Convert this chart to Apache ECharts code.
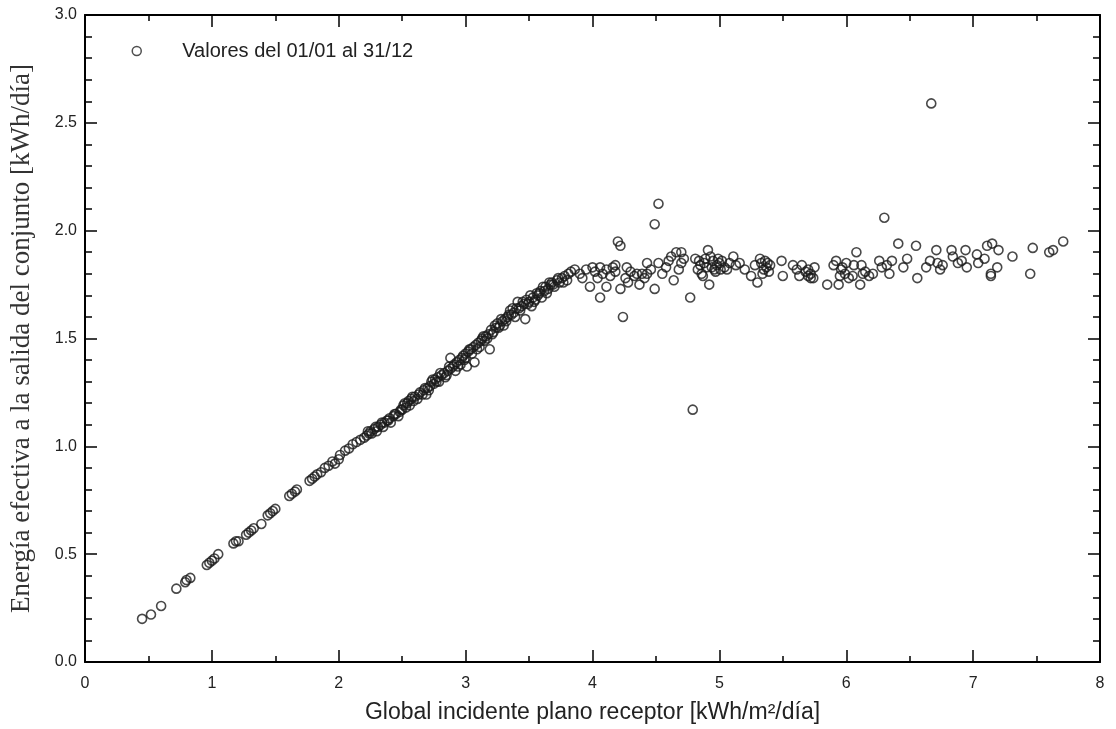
<!DOCTYPE html>
<html>
<head>
<meta charset="utf-8">
<script src="https://cdn.jsdelivr.net/npm/echarts@6/dist/echarts.min.js"></script>
<style>html,body{margin:0;padding:0;background:#fff}#c{width:1116px;height:729px}</style>
</head>
<body>
<div id="c"></div>
<script>
const seriesName = 'Valores del 01/01 al 31/12';
const xAxisName = 'Global incidente plano receptor [kWh/m²/día]';
const yAxisName = 'Energía efectiva a la salida del conjunto [kWh/día]';

const lowX = [0.45,0.52,0.60,0.72,0.79,0.80,0.83,0.96,0.98,1.00,1.02,1.05,1.17,1.19,1.21,1.27,1.29,1.31,1.33,1.39,1.44,1.46,1.48,1.50,1.61,1.63,1.655,1.67,1.77,1.79,1.81,1.83,1.86,1.89,1.92,1.95,1.97,2.00,2.01,2.05,2.08,2.11,2.14,2.17];
const lowY = [0.20,0.22,0.26,0.34,0.37,0.38,0.39,0.45,0.46,0.47,0.48,0.50,0.55,0.56,0.56,0.59,0.60,0.61,0.62,0.64,0.68,0.69,0.70,0.71,0.77,0.78,0.79,0.80,0.84,0.85,0.86,0.87,0.88,0.90,0.91,0.93,0.92,0.94,0.96,0.98,0.99,1.01,1.02,1.03];

const rampX = [2.20,2.22,2.23,2.25,2.26,2.28,2.30,2.31,2.33,2.35,2.36,2.38,2.40,2.41,2.43,2.45,2.47,2.48,2.50,2.51,2.53,2.54,2.55,2.56,2.57,2.59,2.60,2.62,2.64,2.66,2.67,2.69,2.70,2.72,2.73,2.75,2.76,2.78,2.79,2.81,2.83,2.84,2.86,2.88,2.88,2.90,2.92,2.93,2.95,2.96,2.98,2.99,3.00,3.01,3.02,3.04,3.05,3.07,3.08,3.10,3.11,3.13,3.15,3.16,3.18,3.19,3.20,3.22,3.24,3.25,3.27,3.29,3.30,3.31,3.33,3.35,3.36,3.38,3.40,3.41,3.43,3.44,3.46,3.47,3.48,3.50,3.52,3.53,3.55,3.57,3.58,3.60,3.62,3.63,3.65,3.67,3.68,3.70,3.72,3.74,3.76,3.78,3.80,3.83];
const rampY = [1.04,1.05,1.07,1.07,1.06,1.08,1.07,1.09,1.10,1.09,1.11,1.12,1.13,1.11,1.14,1.15,1.14,1.16,1.17,1.19,1.18,1.20,1.21,1.19,1.22,1.21,1.23,1.22,1.25,1.24,1.26,1.24,1.27,1.28,1.30,1.29,1.31,1.32,1.30,1.33,1.34,1.32,1.35,1.41,1.36,1.37,1.35,1.39,1.40,1.38,1.42,1.40,1.43,1.37,1.44,1.45,1.43,1.39,1.47,1.48,1.46,1.50,1.49,1.51,1.52,1.45,1.54,1.53,1.55,1.57,1.56,1.58,1.56,1.59,1.60,1.63,1.61,1.62,1.64,1.67,1.63,1.65,1.66,1.59,1.68,1.67,1.65,1.69,1.68,1.70,1.71,1.69,1.72,1.74,1.73,1.75,1.76,1.74,1.77,1.76,1.78,1.79,1.77,1.81];

const rampX2 = [2.24,2.29,2.34,2.39,2.44,2.49,2.52,2.58,2.63,2.68,2.71,2.74,2.77,2.80,2.85,2.87,2.91,2.94,2.97,3.00,3.03,3.06,3.09,3.12,3.14,3.17,3.21,3.23,3.26,3.28,3.32,3.34,3.37,3.39,3.42,3.45,3.49,3.51,3.54,3.56,3.59,3.61,3.64,3.66,3.69,3.73,3.77,3.81];
const rampY2 = [1.06,1.09,1.11,1.12,1.15,1.17,1.20,1.23,1.24,1.27,1.26,1.31,1.30,1.34,1.33,1.37,1.38,1.37,1.41,1.41,1.45,1.46,1.45,1.49,1.51,1.50,1.52,1.56,1.55,1.59,1.58,1.61,1.64,1.60,1.64,1.67,1.66,1.70,1.67,1.71,1.72,1.74,1.71,1.76,1.75,1.78,1.76,1.80];

const plateauX = [3.86,3.90,3.92,3.95,3.98,4.00,4.02,4.04,4.06,4.06,4.08,4.11,4.11,4.14,4.16,4.18,4.18,4.20,4.22,4.22,4.24,4.26,4.27,4.28,4.30,4.33,4.35,4.37,4.39,4.41,4.43,4.43,4.46,4.49,4.49,4.52,4.52,4.55,4.58,4.60,4.62,4.64,4.66,4.68,4.70,4.70,4.72,4.77,4.79,4.81,4.83,4.85,4.86,4.87,4.89,4.90,4.91,4.92,4.94,4.95,4.97,4.98,5.00,5.02,5.04,5.06,5.08,5.11,5.13,5.16,5.20,5.25,5.28,5.30,5.32,5.33,5.35,5.37,5.38,5.40,5.49,5.50,5.58,5.61,5.63,5.65,5.68,5.70,5.72,5.74,5.75,5.85,5.90,5.92,5.94,5.96,5.97,5.99,6.02,6.05,6.06,6.08,6.11,6.12,6.15,6.18,6.21,6.26,6.28,6.30,6.34,6.36,6.41,6.45,6.48,6.55,6.56,6.63,6.66,6.67,6.71,6.72,6.74,6.76,6.83,6.84,6.88,6.91,6.94,6.95,7.03,7.04,7.09,7.11,7.14,7.14,7.15,7.19,7.20,7.31,7.45,7.47,7.60,7.63,7.71];
const plateauY = [1.82,1.80,1.78,1.82,1.74,1.83,1.81,1.78,1.69,1.83,1.80,1.82,1.74,1.79,1.83,1.84,1.81,1.95,1.93,1.73,1.60,1.78,1.83,1.76,1.81,1.79,1.80,1.75,1.80,1.78,1.80,1.85,1.82,1.73,2.03,2.125,1.85,1.80,1.83,1.86,1.88,1.77,1.90,1.82,1.90,1.85,1.87,1.69,1.17,1.87,1.82,1.84,1.80,1.79,1.87,1.83,1.91,1.75,1.83,1.86,1.81,1.84,1.85,1.86,1.83,1.82,1.85,1.88,1.84,1.85,1.82,1.79,1.84,1.76,1.87,1.85,1.82,1.83,1.85,1.84,1.86,1.79,1.84,1.82,1.79,1.84,1.81,1.79,1.78,1.78,1.83,1.75,1.84,1.86,1.75,1.82,1.83,1.80,1.78,1.79,1.84,1.90,1.75,1.84,1.81,1.79,1.80,1.86,1.83,2.06,1.80,1.86,1.94,1.83,1.87,1.93,1.78,1.83,1.86,2.59,1.91,1.85,1.82,1.84,1.91,1.88,1.85,1.86,1.91,1.83,1.89,1.85,1.87,1.93,1.79,1.80,1.94,1.83,1.91,1.88,1.80,1.92,1.90,1.91,1.95];

const plateauX2 = [4.84,4.88,4.93,4.96,4.99,5.01,5.34,5.36,5.39,5.70,5.72,5.95,6.00,6.13,6.32];
const plateauY2 = [1.86,1.85,1.88,1.82,1.87,1.82,1.80,1.86,1.81,1.82,1.80,1.79,1.85,1.80,1.84];

const xTicks = {min: 0, max: 8, interval: 1};
const yTicks = {min: 0, max: 3, interval: 0.5};

function pairs(xs, ys) { return xs.map((x, i) => [x, ys[i]]); }
const data = [].concat(pairs(lowX, lowY), pairs(rampX, rampY), pairs(rampX2, rampY2), pairs(plateauX, plateauY), pairs(plateauX2, plateauY2));

const lineStyle = {color: '#000', width: 2};
const tickStyle = {color: '#000', width: 1.5};
const labelFont = {fontFamily: 'Liberation Sans, Arial, sans-serif', fontSize: 16, color: '#222'};

function xAx(pos, showLabels) {
  return {
    type: 'value', position: pos, min: xTicks.min, max: xTicks.max, interval: xTicks.interval,
    name: showLabels ? xAxisName : '', nameLocation: 'middle', nameGap: 39,
    nameTextStyle: {fontFamily: 'Liberation Sans, Arial, sans-serif', fontSize: 23, color: '#222'},
    axisLine: {show: true, onZero: false, lineStyle: lineStyle},
    axisTick: {show: true, inside: true, length: 12, lineStyle: tickStyle},
    minorTick: {show: true, splitNumber: 2, length: 6, lineStyle: tickStyle},
    splitLine: {show: false}, minorSplitLine: {show: false},
    axisLabel: Object.assign({show: showLabels, margin: 14}, labelFont)
  };
}
function yAx(pos, showLabels) {
  return {
    type: 'value', position: pos, min: yTicks.min, max: yTicks.max, interval: yTicks.interval,
    name: showLabels ? yAxisName : '', nameLocation: 'middle', nameGap: 50,
    nameTextStyle: {fontFamily: 'Liberation Serif, Times New Roman, serif', fontSize: 27, color: '#333'},
    axisLine: {show: true, onZero: false, lineStyle: lineStyle},
    axisTick: {show: true, inside: true, length: 12, lineStyle: tickStyle},
    minorTick: {show: true, splitNumber: 5, length: 7, lineStyle: tickStyle},
    splitLine: {show: false}, minorSplitLine: {show: false},
    axisLabel: Object.assign({show: showLabels, margin: 8, formatter: v => v.toFixed(1)}, labelFont)
  };
}

const chart = echarts.init(document.getElementById('c'), null, {renderer: 'canvas'});
chart.setOption({
  animation: false,
  backgroundColor: '#fff',
  grid: {left: 85, right: 16, top: 15, bottom: 66, containLabel: false},
  legend: {
    left: 126.5, top: 36, itemWidth: 9, itemHeight: 9, icon: 'circle',
    itemStyle: {color: 'rgba(0,0,0,0)', borderColor: '#222', borderWidth: 1.5},
    textStyle: {fontFamily: 'Liberation Sans, Arial, sans-serif', fontSize: 20, color: '#222', padding: [0, 0, 0, 36]},
    data: [seriesName]
  },
  xAxis: [xAx('bottom', true), xAx('top', false)],
  yAxis: [yAx('left', true), yAx('right', false)],
  series: [{
    name: seriesName, type: 'scatter', xAxisIndex: 0, yAxisIndex: 0,
    symbol: 'circle', symbolSize: 9,
    itemStyle: {color: 'rgba(0,0,0,0)', borderColor: '#1a1a1a', borderWidth: 1.6},
    data: data
  }]
});
</script>
</body>
</html>
